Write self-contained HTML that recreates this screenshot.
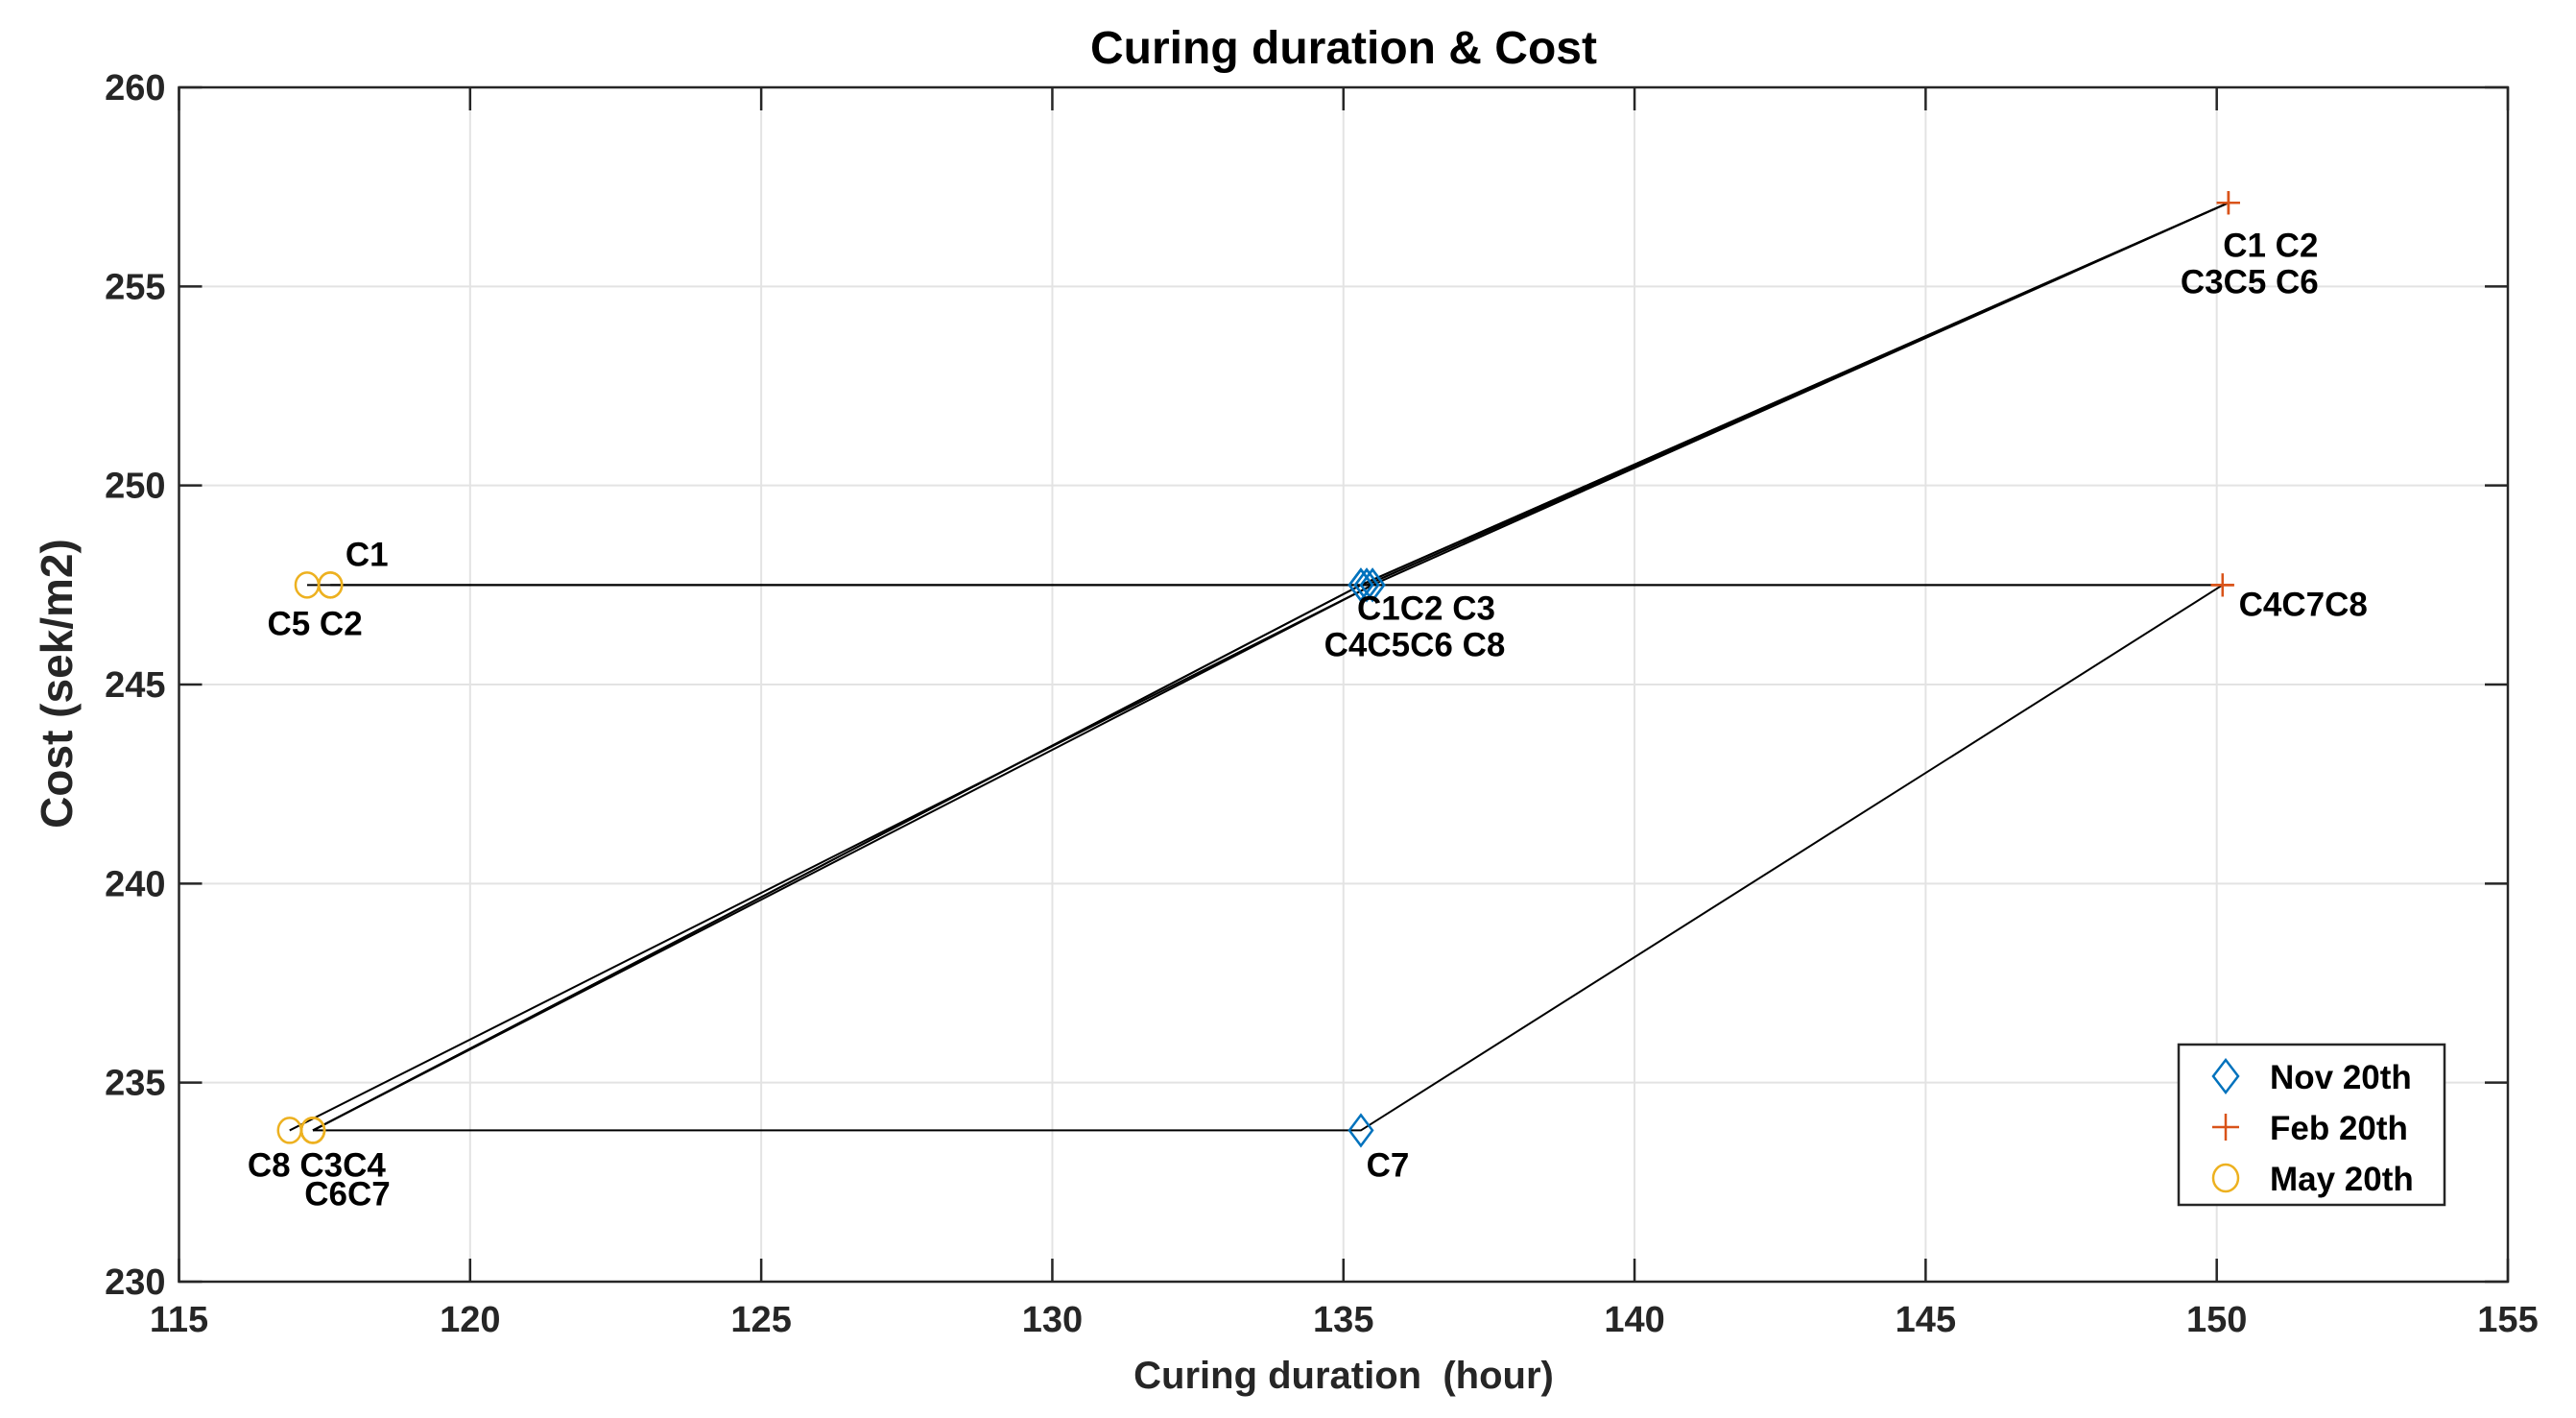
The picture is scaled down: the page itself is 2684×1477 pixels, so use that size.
<!DOCTYPE html>
<html><head><meta charset="utf-8"><style>
html,body{margin:0;padding:0;background:#fff;}
svg{display:block;font-family:"Liberation Sans",Arial,sans-serif;}
</style></head><body>
<svg id="chart" width="2684" height="1477" viewBox="0 0 2684 1477" xmlns="http://www.w3.org/2000/svg">
<g id="grid"></g>
<g id="lines"></g>
<g id="marks"></g>
<g id="labels"></g>
<g id="axes"></g>
<text x="1400" y="66" text-anchor="middle" font-size="48" font-weight="bold" fill="#000">Curing duration &amp; Cost</text>
<text x="1400" y="1446" text-anchor="middle" font-size="40" font-weight="bold" fill="#262626" xml:space="preserve">Curing duration  (hour)</text>
<text transform="translate(75,712) rotate(-90)" text-anchor="middle" font-size="46" font-weight="bold" fill="#262626">Cost (sek/m2)</text>
<g>
<rect x="2270" y="1088" width="277" height="167" fill="#fff" stroke="#262626" stroke-width="2.5"/>
<g>
<path d="M2319,1104 L2332,1121 L2319,1138 L2306,1121 Z" fill="none" stroke="#0072BD" stroke-width="2.5"/>
<text x="2365" y="1134" font-size="35" font-weight="bold" fill="#000">Nov 20th</text></g>
<g>
<path d="M2319,1160 V1188 M2305,1174 H2333" stroke="#D95319" stroke-width="2.5"/>
<text x="2365" y="1187" font-size="35" font-weight="bold" fill="#000">Feb 20th</text></g>
<g>
<ellipse cx="2319" cy="1227" rx="13" ry="14" fill="none" stroke="#EDB120" stroke-width="2.5"/>
<text x="2365" y="1240" font-size="35" font-weight="bold" fill="#000">May 20th</text></g>
</g>
</svg>
<script>
const caseNames = ['C1','C2','C3','C4','C5','C6','C7','C8'];
const novX = [135.4,135.4,135.5,135.3,135.3,135.3,135.3,135.5];
const novY = [247.5,247.5,247.5,247.5,247.5,247.5,233.8,247.5];
const febX = [150.2,150.2,150.2,150.1,150.2,150.2,150.1,150.1];
const febY = [257.1,257.1,257.1,247.5,257.1,257.1,247.5,247.5];
const mayX = [117.6,117.6,117.3,117.3,117.2,117.3,117.3,116.9];
const mayY = [247.5,247.5,233.8,233.8,247.5,233.8,233.8,233.8];
const xTicks = [115,120,125,130,135,140,145,150,155];
const yTicks = [230,235,240,245,250,255,260];
const labelText = ['C1','C5 C2','C1C2 C3','C4C5C6 C8','C1 C2','C3C5 C6','C4C7C8','C7','C8  C3C4','C6C7'];
const labelX = [117.6,117.4,135.4,135.4,150.2,150.2,150.1,135.3,117.1,117.3];
const labelY = [247.5,247.5,247.5,247.5,257.1,257.1,247.5,233.8,233.8,233.8];

const L=186.5,R=2613,T=91,B=1335,X0=115,X1=155,Y0=230,Y1=260;
const sx=v=>L+(v-X0)/(X1-X0)*(R-L);
const sy=v=>B-(v-Y0)/(Y1-Y0)*(B-T);
const NS='http://www.w3.org/2000/svg';
function mk(tag,attrs,parent){const e=document.createElementNS(NS,tag);for(const k in attrs)e.setAttribute(k,attrs[k]);parent.appendChild(e);return e;}
const grid=document.getElementById('grid'),axes=document.getElementById('axes'),lines=document.getElementById('lines'),marks=document.getElementById('marks'),labels=document.getElementById('labels');
xTicks.forEach(t=>{
  const g=mk('line',{x1:sx(t),x2:sx(t),y1:T,y2:B,stroke:'#e3e3e3','stroke-width':2},grid);
  
  
  mk('line',{x1:sx(t),x2:sx(t),y1:B,y2:B-24,stroke:'#262626','stroke-width':2.5},axes);
  mk('line',{x1:sx(t),x2:sx(t),y1:T,y2:T+24,stroke:'#262626','stroke-width':2.5},axes);
  const tx=mk('text',{x:sx(t),y:B+52,'text-anchor':'middle','font-size':38,'font-weight':'bold',fill:'#262626'},axes);
  tx.textContent=t;
  
  
});
yTicks.forEach(t=>{
  const g=mk('line',{x1:L,x2:R,y1:sy(t),y2:sy(t),stroke:'#e3e3e3','stroke-width':2},grid);
  
  
  mk('line',{x1:L,x2:L+24,y1:sy(t),y2:sy(t),stroke:'#262626','stroke-width':2.5},axes);
  mk('line',{x1:R,x2:R-24,y1:sy(t),y2:sy(t),stroke:'#262626','stroke-width':2.5},axes);
  const tx=mk('text',{x:L-14,y:sy(t)+13,'text-anchor':'end','font-size':38,'font-weight':'bold',fill:'#262626'},axes);
  tx.textContent=t;
  
  
});
const box=mk('rect',{x:L,y:T,width:R-L,height:B-T,fill:'none',stroke:'#262626','stroke-width':2.5},axes);


caseNames.forEach((c,i)=>{
  const p=mk('polyline',{points:`${sx(mayX[i])},${sy(mayY[i])} ${sx(novX[i])},${sy(novY[i])} ${sx(febX[i])},${sy(febY[i])}`,fill:'none',stroke:'#000','stroke-width':2},lines);
  
  
});
caseNames.forEach((c,i)=>{
  const x=sx(novX[i]),y=sy(novY[i]);
  const d=mk('path',{d:`M${x},${y-16} L${x+12},${y} L${x},${y+16} L${x-12},${y} Z`,fill:'none',stroke:'#0072BD','stroke-width':2.5},marks);
  
  
  const fx=sx(febX[i]),fy=sy(febY[i]);
  const f=mk('path',{d:`M${fx},${fy-12} V${fy+12} M${fx-12},${fy} H${fx+12}`,stroke:'#D95319','stroke-width':2.5},marks);
  
  
  const m=mk('ellipse',{cx:sx(mayX[i]),cy:sy(mayY[i]),rx:12,ry:13,fill:'none',stroke:'#EDB120','stroke-width':2.5},marks);
  
  
});
const ldx=[38,-4,62,50,44,22,84,28,16,36], ldy=[-20,52,36,74,56,94,32,48,48,78];
labelText.forEach((t,i)=>{
  const tx=mk('text',{x:sx(labelX[i])+ldx[i],y:sy(labelY[i])+ldy[i],'text-anchor':'middle','font-size':35,'font-weight':'bold',fill:'#000','xml:space':'preserve'},labels);
  tx.textContent=t;
  
  
});
</script>
</body></html>
